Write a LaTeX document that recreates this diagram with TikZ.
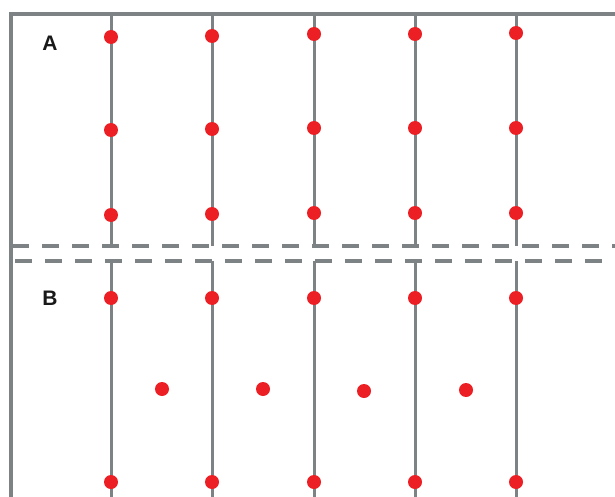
\documentclass[tikz,border=0pt]{standalone}
\usepackage{fontspec}
\setmainfont{Liberation Sans}
\definecolor{rulegray}{RGB}{125,130,132}
\definecolor{pinred}{RGB}{236,32,36}
\begin{document}
\begin{tikzpicture}[x=1pt,y=-1pt,
  frame/.style={draw=rulegray,line width=3.5pt},
  rail/.style={draw=rulegray,line width=3pt},
  cutline/.style={draw=rulegray,line width=4pt,dash pattern=on 17pt off 13pt},
  pin/.style={fill=pinred},
  panel/.style={font=\fontsize{21}{21}\selectfont\bfseries,inner sep=0pt,text=black!90}]
\useasboundingbox (0,0) rectangle (615,497);
\fill[white] (0,0) rectangle (615,497);

% outer frame: left and top edges
\draw[frame] (11,497) -- (11,14) -- (615,14);

% vertical rails, interrupted at the cut
\foreach \x in {111,212,314,415,516} {
  \draw[rail] (\x,14) -- (\x,246);
  \draw[rail] (\x,261) -- (\x,497);
}

% dashed cut lines between the two panels
\coordinate (cutAw) at (12,246);
\coordinate (cutAe) at (615,246);
\coordinate (cutBw) at (15,261);
\coordinate (cutBe) at (615,261);
\draw[cutline] (cutAw) -- (cutAe);
\draw[cutline] (cutBw) -- (cutBe);

% panel A pins: three rows on the rails
\foreach \x/\y in {111/37,212/36,314/34,415/34,516/33,
                   111/130,212/129,314/128,415/128,516/128,
                   111/215,212/214,314/213,415/213,516/213}
  \fill[pin] (\x,\y) circle (7pt);

% panel B pins: rail rows and the staggered middle row
\foreach \x/\y in {111/298,212/298,314/298,415/298,516/298,
                   162/389,263/389,364/391,466/390,
                   111/482,212/482,314/482,415/482,516/482}
  \fill[pin] (\x,\y) circle (7pt);

% panel labels
\node[panel] (labA) at (50,43) {A};
\node[panel] (labB) at (50,298) {B};
\end{tikzpicture}
\end{document}
